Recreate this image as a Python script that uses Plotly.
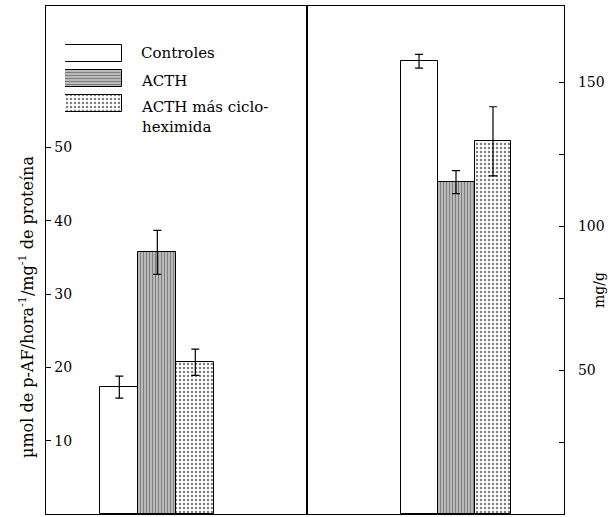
import plotly.graph_objects as go

# ---------------- data ----------------
categories = ["Controles", "ACTH", "ACTH más ciclo-heximida"]
legend_labels = ["Controles", "ACTH", "ACTH más ciclo-<br>heximida"]
left_values = [17.3, 35.7, 20.7]      # µmol p-AF/hora/mg proteína
left_errors = [1.5, 3.0, 1.8]
right_values = [157.3, 115.3, 129.5]  # mg/g
right_errors = [2.4, 4.0, 12.0]
left_tickvals = [10, 20, 30, 40, 50]
right_tickvals = [25, 50, 75, 100, 125, 150]
right_ticktext = ["", "50", "", "100", "", "150"]

FONT = "DejaVu Serif"
bar_shapes = ["", "|", "."]
bar_sizes = [8, 3, 4]
bar_solidity = [0.2, 0.7, 0.3]
legend_shapes = ["", "-", "."]

positions = list(range(len(categories)))

fig = go.Figure()

def bar_marker(shapes, sizes, solid):
    return dict(
        color="white",
        line=dict(color="black", width=1),
        pattern=dict(shape=shapes, size=sizes, solidity=solid,
                     fgcolor="black", bgcolor="white", fillmode="overlay"),
    )

fig.add_trace(go.Bar(
    x=positions, y=left_values, width=1,
    error_y=dict(type="data", array=left_errors, color="black", thickness=1.2, width=4),
    marker=bar_marker(bar_shapes, bar_sizes, bar_solidity),
    xaxis="x", yaxis="y", showlegend=False, hovertext=categories,
))
fig.add_trace(go.Bar(
    x=positions, y=right_values, width=1,
    error_y=dict(type="data", array=right_errors, color="black", thickness=1.2, width=4),
    marker=bar_marker(bar_shapes, bar_sizes, bar_solidity),
    xaxis="x2", yaxis="y2", showlegend=False, hovertext=categories,
))
# legend swatches
fig.add_trace(go.Bar(
    y=positions, x=[1, 1, 1], orientation="h", width=0.7,
    marker=dict(color="white", line=dict(color="black", width=1),
                pattern=dict(shape=legend_shapes, size=[8, 3, 4], solidity=[0.2, 0.7, 0.3],
                             fgcolor="black", bgcolor="white", fillmode="overlay")),
    xaxis="x3", yaxis="y3", showlegend=False, hoverinfo="skip",
))

W, H = 612, 517
ml, mr, mt, mb = 46, 48, 6, 3
pw = W - ml - mr
ph = H - mt - mb
split = (307 - ml) / pw

def px_to_paper_x(px):
    return (px - ml) / pw

def px_to_paper_y(py):
    return (H - mb - py) / ph

line = dict(showline=True, linecolor="black", linewidth=1.2, mirror=True)
tickfont = dict(family=FONT, size=14, color="black")

fig.update_layout(
    width=W, height=H,
    margin=dict(l=ml, r=mr, t=mt, b=mb, autoexpand=False),
    paper_bgcolor="white", plot_bgcolor="white",
    bargap=0,
    font=dict(family=FONT, size=13, color="black"),
    xaxis=dict(domain=[0, split], range=[-1.93, 4.94], showticklabels=False,
               ticks="", showgrid=False, zeroline=False, automargin=False, **line),
    yaxis=dict(domain=[0, 1], range=[0, 69.3], tickvals=left_tickvals,
               ticks="inside", ticklen=5, tickcolor="black",
               ticklabelposition="inside", ticklabelstandoff=3,
               showgrid=False, zeroline=False,
               tickfont=tickfont, anchor="x", automargin=False, **line),
    xaxis2=dict(domain=[split, 1], range=[-3.03, 3.92], showticklabels=False,
                ticks="", showgrid=False, zeroline=False, anchor="y2",
                automargin=False, **line),
    yaxis2=dict(domain=[0, 1], range=[0, 176.5], side="right", anchor="x2",
                tickvals=right_tickvals, ticktext=right_ticktext,
                ticks="inside", ticklen=5, tickcolor="black",
                ticklabelstandoff=10,
                showgrid=False, zeroline=False, automargin=False,
                tickfont=tickfont, **line),
    xaxis3=dict(domain=[px_to_paper_x(65), px_to_paper_x(122)], range=[0, 1],
                visible=False, anchor="y3"),
    yaxis3=dict(domain=[px_to_paper_y(116), px_to_paper_y(41)], range=[2.5, -0.5],
                visible=False, anchor="x3"),
)

# legend labels
legend_y_px = [52, 80, 106]
for lab, ypx in zip(legend_labels, legend_y_px):
    fig.add_annotation(
        xref="paper", yref="paper", x=px_to_paper_x(139), y=px_to_paper_y(ypx - 10),
        text=lab, showarrow=False, xanchor="left", yanchor="top", align="left",
        font=dict(family=FONT, size=15, color="black"),
    )

# axis titles
fig.add_annotation(
    xref="paper", yref="paper", x=px_to_paper_x(26), y=px_to_paper_y(307),
    text="µmol de p-AF/hora<sup>-1</sup>/mg<sup>-1</sup> de proteína",
    textangle=-90, showarrow=False, xanchor="center", yanchor="middle",
    font=dict(family=FONT, size=16, color="black"),
)
fig.add_annotation(
    xref="paper", yref="paper", x=px_to_paper_x(599), y=px_to_paper_y(290),
    text="mg/g", textangle=-90, showarrow=False, xanchor="center", yanchor="middle",
    font=dict(family=FONT, size=14, color="black"),
)

fig.write_html("out.html")
